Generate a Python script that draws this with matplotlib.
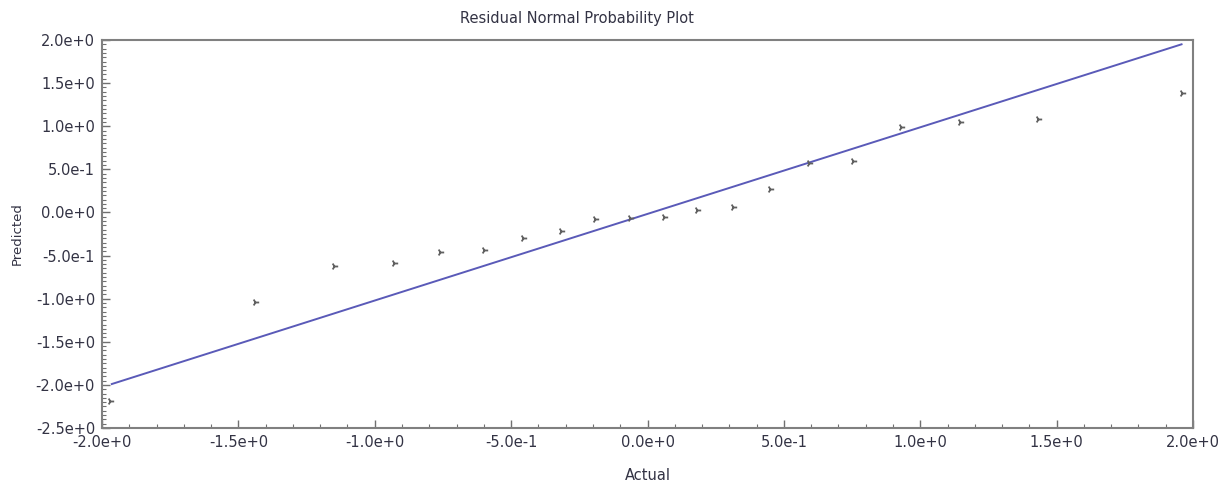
import matplotlib
matplotlib.use("Agg")
import matplotlib.pyplot as plt
from matplotlib.ticker import MultipleLocator, FuncFormatter

actual = [-1.97, -1.44, -1.15, -0.93, -0.76, -0.60, -0.455, -0.318, -0.192, -0.063,
          0.060, 0.183, 0.315, 0.449, 0.593, 0.752, 0.929, 1.146, 1.433, 1.958]
predicted = [-2.19, -1.036, -0.618, -0.59, -0.463, -0.436, -0.30, -0.216, -0.077, -0.061,
             -0.05, 0.028, 0.066, 0.268, 0.577, 0.596, 0.99, 1.052, 1.08, 1.38]
fit_x = [-1.964, 1.958]
fit_y = [-1.99, 1.95]
title = "Residual Normal Probability Plot"
xlabel = "Actual"
ylabel = "Predicted"

plt.rcParams['font.family'] = ['DejaVu Sans']

fig = plt.figure(figsize=(12.28, 4.83), dpi=100)
ax = fig.add_axes([102/1228, 1-428/483, (1193-102)/1228, (428-40)/483])

ax.plot(fit_x, fit_y, color='#5a5ab8', lw=1.4, zorder=2)
ax.scatter(actual, predicted, marker='4', s=28, color='#606060', linewidths=1.3, zorder=3)

ax.set_xlim(-2.0, 2.0)
ax.set_ylim(-2.5, 2.0)
ax.xaxis.set_major_locator(MultipleLocator(0.5))
ax.xaxis.set_minor_locator(MultipleLocator(0.1))
ax.yaxis.set_major_locator(MultipleLocator(0.5))
ax.yaxis.set_minor_locator(MultipleLocator(0.05))

def fmt(v, pos):
    s = "%.1e" % v
    mant, exp = s.split('e')
    return "%se%+d" % (mant, int(exp))
ax.xaxis.set_major_formatter(FuncFormatter(fmt))
ax.yaxis.set_major_formatter(FuncFormatter(fmt))

ax.tick_params(which='both', direction='in', color='#707070', top=False, right=False)
ax.tick_params(which='major', length=6, width=1.0, labelsize=10.5, labelcolor='#333344', pad=5)
ax.tick_params(which='minor', length=3, width=0.8)

for sp in ax.spines.values():
    sp.set_color('#808080')
    sp.set_linewidth(1.5)

fig.text(577/1228, 1-19/483, title, fontsize=10.5, color='#333344', ha='center', va='center')
ax.set_xlabel(xlabel, fontsize=10.5, color='#333344')
ax.set_ylabel(ylabel, fontsize=9.5, color='#333344')
ax.xaxis.set_label_coords(0.5, (428-476)/388)
ax.yaxis.set_label_coords((17-102)/1091, 0.5)
ax.xaxis.label.set_va('center')
ax.yaxis.label.set_va('center')

fig.savefig("out.png", dpi=100)
